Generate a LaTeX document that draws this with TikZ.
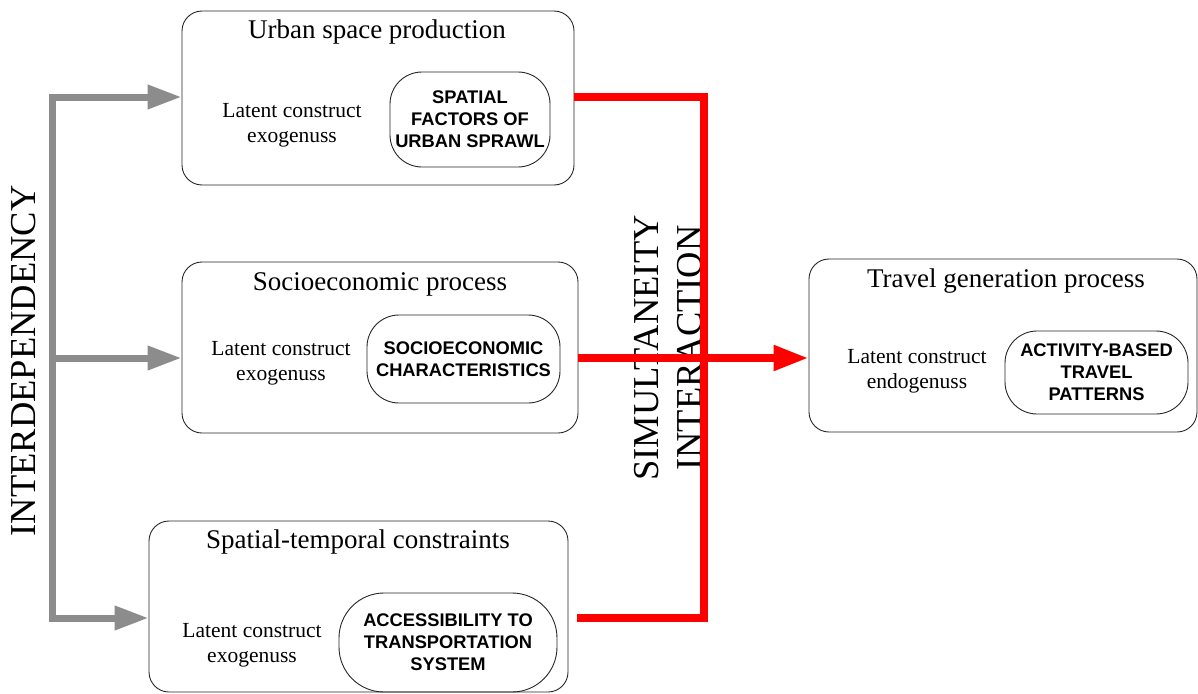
\documentclass[tikz,border=0pt]{standalone}
\usepackage{fontspec}
\setmainfont{Liberation Serif}
\newfontfamily\labelsans{Liberation Sans}
\usetikzlibrary{arrows.meta}

\definecolor{linkgray}{RGB}{140,140,140}
\definecolor{linkred}{RGB}{255,0,0}

\begin{document}
\begin{tikzpicture}[x=1pt,y=-1pt,
  outerbox/.style={draw=black!85,line width=0.9pt,rounded corners=20pt,
    inner sep=0pt,anchor=center},
  innerbox/.style={draw=black!85,line width=0.9pt,rounded corners=32pt,
    inner sep=0pt,anchor=center,align=center,
    font=\labelsans\bfseries\fontsize{18.3}{22}\selectfont},
  boxtitle/.style={anchor=base,inner sep=0pt,font=\fontsize{27}{30}\selectfont},
  % base anchor of a two-line node sits on its last line
  latent/.style={anchor=base,inner sep=0pt,align=center,
    font=\fontsize{21.5}{24.5}\selectfont},
  sidelabel/.style={rotate=90,inner sep=0pt,align=center,
    font=\fontsize{36.5}{43}\selectfont},
  grayarrow/.style={draw=linkgray,line width=7pt,
    -{Triangle[length=34pt,width=23pt]}},
  graytwoway/.style={draw=linkgray,line width=7pt,
    {Triangle[length=34pt,width=23pt]}-{Triangle[length=34pt,width=23pt]}},
  redline/.style={draw=linkred,line width=8pt},
  redarrow/.style={draw=linkred,line width=8pt,
    -{Triangle[length=35pt,width=24pt]}}
]
\useasboundingbox (0,0) rectangle (1198,693);

% outer process boxes
\node[outerbox,minimum width=392pt,minimum height=174pt] (usp) at (378,98) {};
\node[outerbox,minimum width=396pt,minimum height=171pt] (soc) at (380,347.5) {};
\node[outerbox,minimum width=419pt,minimum height=171pt] (spt) at (358.5,606.5) {};
\node[outerbox,minimum width=388pt,minimum height=173pt] (tgp) at (1003,345.5) {};

% titles
\node[boxtitle] (uspt) at (377,38) {Urban space production};
\node[boxtitle] (soct) at (380,290) {Socioeconomic process};
\node[boxtitle] (sptt) at (358,548) {Spatial-temporal constraints};
\node[boxtitle] (tgpt) at (1006,287) {Travel generation process};

% latent construct labels
\node[latent] (uspl) at (292,142) {Latent construct\\exogenuss};
\node[latent] (socl) at (281,380) {Latent construct\\exogenuss};
\node[latent] (sptl) at (252,662) {Latent construct\\exogenuss};
\node[latent] (tgpl) at (917,388) {Latent construct\\endogenuss};

% construct boxes
\node[innerbox,minimum width=160pt,minimum height=95pt] (usi) at (470,119.5)
  {SPATIAL\\FACTORS OF\\URBAN SPRAWL};
\node[innerbox,minimum width=193pt,minimum height=88pt] (soi) at (463.5,359)
  {SOCIOECONOMIC\\CHARACTERISTICS};
\node[innerbox,rounded corners=45pt,minimum width=218pt,minimum height=99pt] (spi) at (448,642.5)
  {ACCESSIBILITY TO\\TRANSPORTATION\\SYSTEM};
\node[innerbox,minimum width=183pt,minimum height=83pt] (tgi) at (1096.5,372.5)
  {ACTIVITY-BASED\\TRAVEL\\PATTERNS};

% rotated side labels
\node[sidelabel] (interdep) at (24,361) {INTERDEPENDENCY};
\node[sidelabel] (simul) at (668.5,348) {SIMULTANEITY\\INTERACTION};

% interdependency links
\coordinate (g1) at (52,97);
\coordinate (g2) at (52,358);
\coordinate (g3) at (52,618);
\draw[graytwoway] (spt.west |- g3) -- (g3) -- (g1) -- (usp.west |- g1);
\draw[grayarrow] (g2) -- (soc.west |- g2);

% simultaneity links
\coordinate (r1) at (704,97);
\coordinate (r2) at (704,358);
\coordinate (r3) at (704,618);
\coordinate (rend) at (577,618);
\draw[redline] (usp.east |- r1) -- (r1) -- (r3) -- (rend);
\draw[redarrow] (soc.east |- r2) -- (tgp.west |- r2);
\end{tikzpicture}
\end{document}
